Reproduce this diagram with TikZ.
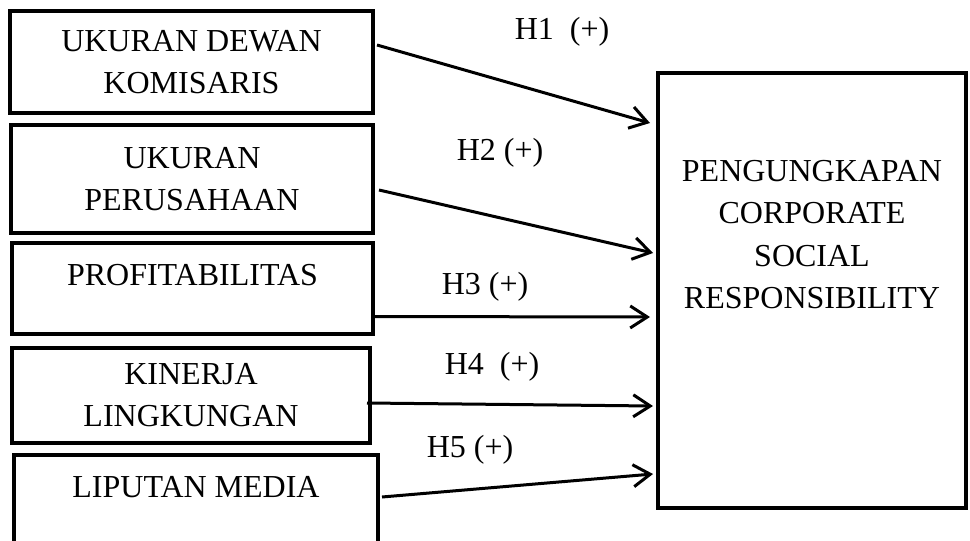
\documentclass[tikz,border=0pt]{standalone}
\usepackage{fontspec}
\setmainfont{Liberation Serif}
\usetikzlibrary{arrows.meta, positioning}
\tikzset{
  var/.style = {draw=black, line width=3.3pt, inner sep=0pt, outer sep=0pt,
    align=center, font=\fontsize{32}{42}\selectfont},
  dep/.style = {draw=black, line width=3.3pt, inner sep=0pt, outer sep=0pt,
    minimum width=308pt, minimum height=435pt},
  txt/.style = {align=center, inner sep=0pt, font=\fontsize{32}{42.5}\selectfont},
  hip/.style = {inner sep=0pt, font=\fontsize{32}{38}\selectfont},
  seta/.style = {-{Straight Barb[length=17pt, width=22pt, line width=3pt]},
    line width=3pt}
}

\begin{document}
\begin{tikzpicture}[x=1pt, y=-1pt]
  \useasboundingbox (0,0) rectangle (970,541);
  % variabel independen
  \node [var, minimum width=363pt, minimum height=102pt] (b1) at (191.5,62)
    {UKURAN DEWAN\\KOMISARIS};
  \node [var, minimum width=362pt, minimum height=108pt] (b2) at (192,179)
    {UKURAN\\PERUSAHAAN};
  \node [var, minimum width=361pt, minimum height=91pt, text height=22pt,
    text depth=29pt] (b3) at (192.5,288.5) {PROFITABILITAS};
  \node [var, minimum width=358pt, minimum height=95pt] (b4) at (191,395.5)
    {KINERJA\\LINGKUNGAN};
  \node [var, minimum width=364pt, minimum height=110pt, text height=22pt,
    text depth=48pt] (b5) at (196,510) {LIPUTAN MEDIA};
  % variabel dependen
  \node [dep] (csr) at (812,290.5) {};
  \node [txt, anchor=north, below=87pt of csr.north] (csrt)
    {PENGUNGKAPAN\\CORPORATE\\SOCIAL\\RESPONSIBILITY};
  % hipotesis
  \draw [seta] ([xshift=4pt,yshift=17pt]b1.east) -- ([xshift=-8pt,yshift=167.5pt]csr.west);
  \draw [seta] ([xshift=6pt,yshift=-11pt]b2.east) -- ([xshift=-5pt,yshift=37.5pt]csr.west);
  \draw [seta] ([yshift=-28pt]b3.east) -- ([xshift=-8pt,yshift=-26.5pt]csr.west);
  \draw [seta] ([xshift=-3pt,yshift=-7.5pt]b4.east) -- ([xshift=-5pt,yshift=-115.5pt]csr.west);
  \draw [seta] ([xshift=4pt,yshift=13pt]b5.east) -- ([xshift=-5pt,yshift=-183.5pt]csr.west);
  \node [hip] (h1) at (562,32) {H1\ \ (+)};
  \node [hip] (h2) at (500,153) {H2 (+)};
  \node [hip] (h3) at (485,287) {H3 (+)};
  \node [hip] (h4) at (492,367) {H4\ \ (+)};
  \node [hip] (h5) at (470,450) {H5 (+)};
\end{tikzpicture}
\end{document}
